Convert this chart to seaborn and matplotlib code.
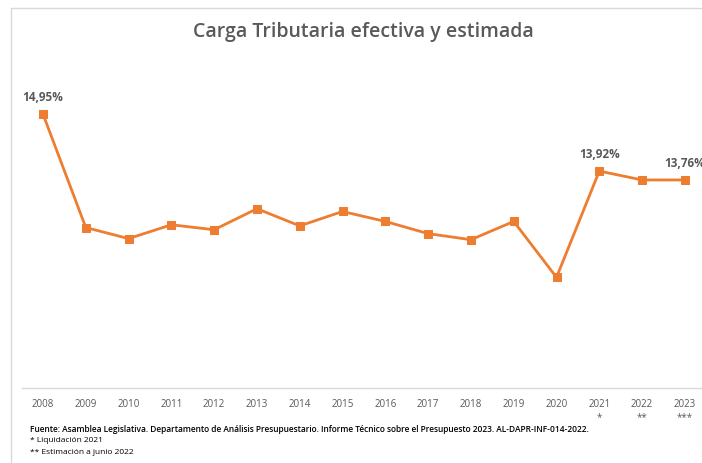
import numpy as np
import pandas as pd
import seaborn as sns
import matplotlib.pyplot as plt
from matplotlib.lines import Line2D

years = ['2008', '2009', '2010', '2011', '2012', '2013', '2014', '2015',
         '2016', '2017', '2018', '2019', '2020', '2021', '2022', '2023']
tick_marks = ['', '', '', '', '', '', '', '', '', '', '', '', '', '*', '**', '***']
carga = [14.95, 12.90, 12.70, 12.95, 12.86, 13.24, 12.93, 13.19,
         13.01, 12.79, 12.68, 13.01, 12.00, 13.92, 13.76, 13.76]
labelled = {'2008': '14,95%', '2021': '13,92%', '2023': '13,76%'}

title = 'Carga Tributaria efectiva y estimada'
notes = ['Fuente: Asamblea Legislativa. Departamento de Análisis Presupuestario. Informe Técnico sobre el Presupuesto 2023. AL-DAPR-INF-014-2022.',
         '* Liquidación 2021',
         '** Estimación a junio 2022']

df = pd.DataFrame({'x': np.arange(len(years)), 'year': years, 'carga': carga})

sns.set_theme(style='white')
plt.rcParams['font.family'] = ['Open Sans', 'DejaVu Sans']

W, H = 702, 463
fig = plt.figure(figsize=(W / 100, H / 100), dpi=100)
fig.patch.set_facecolor('white')

# chart border (light gray, like the Excel chart area)
fig.add_artist(Line2D([11 / W, 11 / W], [0, 1 - 8 / H], transform=fig.transFigure,
                      color='#d9d9d9', lw=1))
fig.add_artist(Line2D([11 / W, 1], [1 - 8 / H, 1 - 8 / H], transform=fig.transFigure,
                      color='#d9d9d9', lw=1))

ax = fig.add_axes([21.6 / W, 1 - 388 / H, (W - 21.6) / W, (388 - 56) / H])
sns.lineplot(data=df, x='x', y='carga', ax=ax, color='#ED7D31', lw=2,
             marker='s', markersize=6, markeredgecolor='#ED7D31')

ax.set_xlim(-0.5, 15.4)
ax.set_ylim(10, 16)
ax.set_yticks([])
ax.set_xlabel('')
ax.set_ylabel('')
for s in ['left', 'right', 'top']:
    ax.spines[s].set_visible(False)
ax.spines['bottom'].set_color('#d9d9d9')
ax.spines['bottom'].set_linewidth(1)

ax.set_xticks(df['x'])
ax.set_xticklabels([f'{y}\n{m}' if m else y for y, m in zip(years, tick_marks)],
                   fontsize=7, color='#595959', va='top', linespacing=1.2)
ax.tick_params(axis='x', length=0, pad=8)

for i, y in enumerate(years):
    if y in labelled:
        ax.annotate(labelled[y], (i, carga[i]), xytext=(0, 7), textcoords='offset points',
                    ha='center', va='bottom', fontsize=8.5, fontweight='bold',
                    color='#595959')

fig.text(363 / W, 1 - 32 / H, title, ha='center', va='center', fontsize=14,
         fontweight='semibold', color='#595959')

ys = [430, 441, 452]
for t, yy, fw in zip(notes, ys, ['semibold', 'normal', 'normal']):
    fig.text(30 / W, 1 - yy / H, t, ha='left', va='center', fontsize=6.05,
             fontweight=fw, color='black')

fig.savefig('out.png', dpi=100)
